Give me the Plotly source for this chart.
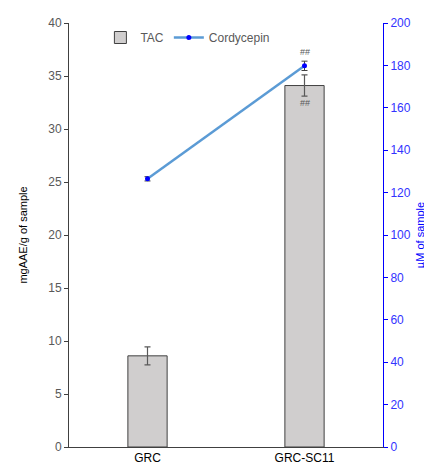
import plotly.graph_objects as go

categories = ["GRC", "GRC-SC11"]
tac = [8.6, 34.1]
tac_err = [0.85, 1.0]
cordycepin = [126.5, 179.8]
cordycepin_err = [1.0, 2.2]
sig_marks = ["", "##"]

fig = go.Figure()
fig.add_trace(go.Bar(
    x=categories, y=tac, name="TAC", width=0.25,
    marker=dict(color="#d0cece", line=dict(color="#404040", width=1)),
    error_y=dict(type="data", array=tac_err, color="#595959", thickness=1.2, width=3),
    yaxis="y"))
fig.add_trace(go.Scatter(
    x=categories, y=cordycepin, name="Cordycepin", mode="lines+markers",
    line=dict(color="#5b9bd5", width=2.5),
    marker=dict(color="#0000ff", size=5),
    error_y=dict(type="data", array=cordycepin_err, color="#404040", thickness=1, width=3),
    yaxis="y2"))

for c, t, v, s in zip(categories, tac, cordycepin, sig_marks):
    if s:
        fig.add_annotation(x=c, y=v, yref="y2", text=s, showarrow=False, yshift=14,
                           font=dict(size=9, color="#595959"))
        fig.add_annotation(x=c, y=t, yref="y", text=s, showarrow=False, yshift=-17,
                           font=dict(size=9, color="#595959"))

fig.update_layout(
    width=424, height=458,
    margin=dict(l=61, r=49, t=15, b=19, autoexpand=False),
    plot_bgcolor="white", paper_bgcolor="white",
    font=dict(family="Liberation Sans, Arial, sans-serif", size=12, color="#595959"),
    showlegend=True,
    legend=dict(orientation="h", x=0.1, y=1.0, xanchor="left", yanchor="top",
                font=dict(size=12, color="#595959"), bgcolor="rgba(0,0,0,0)",
                tracegroupgap=0),
    xaxis=dict(showline=True, linecolor="#404040", linewidth=1, ticks="",
               showgrid=False, automargin=False, tickfont=dict(size=12, color="#000000")),
    yaxis=dict(range=[0, 40], dtick=5, showline=True, linecolor="#404040", linewidth=1,
               ticks="outside", ticklen=4, tickcolor="#404040", showgrid=False,
               zeroline=False, automargin=False,
               title=dict(text="mgAAE/g of sample", font=dict(size=11, color="#000000"), standoff=18),
               tickfont=dict(size=12, color="#595959")),
    yaxis2=dict(range=[0, 200], dtick=20, overlaying="y", side="right", showline=True,
                linecolor="#0000ff", linewidth=1, ticks="outside", ticklen=4,
                tickcolor="#0000ff", showgrid=False, zeroline=False, automargin=False,
                title=dict(text="µM of sample", font=dict(size=11, color="#0000ff"), standoff=6),
                tickfont=dict(size=12, color="#3333ff")),
    bargap=0.5,
)

fig.write_html("out.html")
